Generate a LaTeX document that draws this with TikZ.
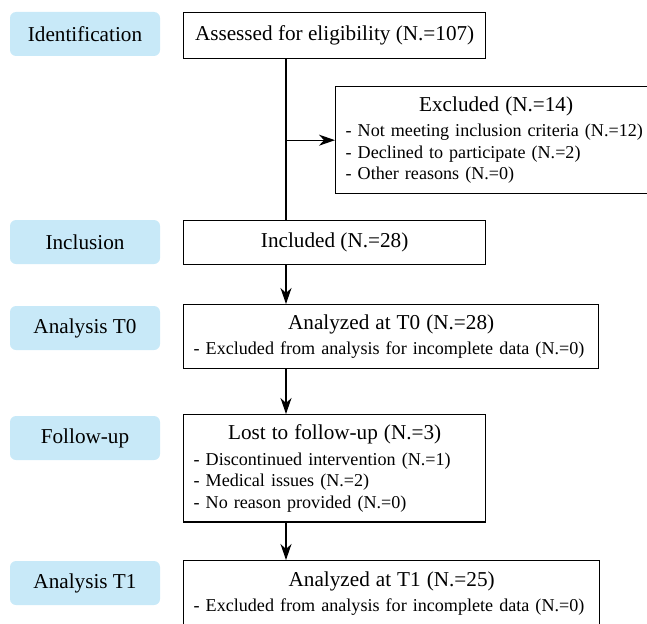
\documentclass[tikz,border=0pt]{standalone}
\usepackage{fontspec}
\setmainfont{Liberation Serif}
\usetikzlibrary{arrows.meta,calc}
\definecolor{StageClr}{RGB}{200,233,248}
\newcommand{\BoxTitle}[1]{\makebox[\linewidth]{\fontsize{21.2}{25}\selectfont #1}\\[4pt]}

\begin{document}
\begin{tikzpicture}[x=1pt,y=-1pt,
  stage/.style={fill=StageClr,rounded corners=6pt,minimum width=150pt,minimum height=44pt,
    font=\fontsize{21.2}{25}\selectfont},
  flowbox/.style={draw,line width=1.3pt,anchor=north west,inner sep=10pt,align=left,
    font=\fontsize{18.1}{21.5}\selectfont},
  onebox/.style={flowbox,minimum width=302pt,font=\fontsize{21.2}{25}\selectfont},
  link/.style={line width=1.3pt},
  arr/.style={link,-{Stealth[length=16pt,width=11pt,inset=5pt]}}]
\useasboundingbox (0,0) rectangle (647,623);

% stage labels
\node[stage] (sIdent) at (85,34) {Identification};
\node[stage] (sIncl) at (85,242) {Inclusion};
\node[stage] (sT0) at (85,328) {Analysis T0};
\node[stage] (sFollow) at (85,438) {Follow-up};
\node[stage] (sT1) at (85,583) {Analysis T1};

% flow boxes
\node[onebox,minimum height=46pt] (assess) at (183,12) {Assessed for eligibility (N.=107)};
\node[flowbox,text width=301pt,minimum height=104pt] (excl) at (335,86)
  {\BoxTitle{Excluded (N.=14)}- Not meeting inclusion criteria (N.=12)\\- Declined to participate (N.=2)\\- Other reasons (N.=0)};
\node[onebox,minimum height=44pt] (incl) at (183,220) {Included (N.=28)};
\node[flowbox,text width=395pt,minimum height=64pt] (t0) at (183,304)
  {\BoxTitle{Analyzed at T0 (N.=28)}- Excluded from analysis for incomplete data (N.=0)};
\node[flowbox,text width=282pt,minimum height=106pt] (lost) at (183,414)
  {\BoxTitle{Lost to follow-up (N.=3)}- Discontinued intervention (N.=1)\\- Medical issues (N.=2)\\- No reason provided (N.=0)};
\node[flowbox,text width=396pt,minimum height=66pt] (t1) at (183,560)
  {\BoxTitle{Analyzed at T1 (N.=25)}- Excluded from analysis for incomplete data (N.=0)};

% connectors
\coordinate (spine) at (286,0);
\draw[link] (spine |- assess.south) -- (spine |- incl.north);
\draw[arr] (spine |- excl.west) -- (excl.west);
\draw[arr] (spine |- incl.south) -- (spine |- t0.north);
\draw[arr] (spine |- t0.south) -- (spine |- lost.north);
\draw[arr] (spine |- lost.south) -- (spine |- t1.north);

\end{tikzpicture}
\end{document}
